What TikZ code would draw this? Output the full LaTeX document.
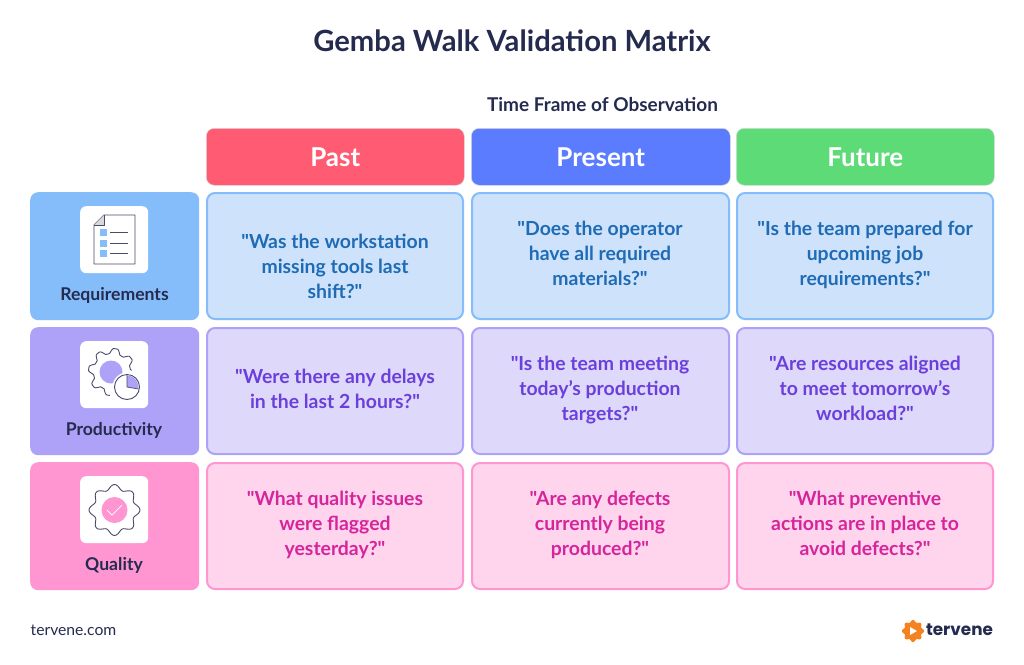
\documentclass[tikz,border=0pt]{standalone}
\usepackage{fontspec}
\newfontfamily\lat{Lato}
\newfontfamily\pop{Poppins}
\definecolor{navy}{HTML}{252B4F}
\definecolor{redh}{HTML}{FF5C74}
\definecolor{blueh}{HTML}{5C7CFF}
\definecolor{greenh}{HTML}{5CDB77}
\definecolor{blueL}{HTML}{85BDFB}
\definecolor{purL}{HTML}{AEA2F8}
\definecolor{pinkL}{HTML}{FF96D2}
\definecolor{blueC}{HTML}{CEE3FB}
\definecolor{purC}{HTML}{DED8FB}
\definecolor{pinkC}{HTML}{FFD5EE}
\definecolor{blueT}{HTML}{1F6BB5}
\definecolor{purT}{HTML}{6B3FDB}
\definecolor{pinkT}{HTML}{D6249A}
\definecolor{orangeL}{HTML}{F58220}
\definecolor{inkline}{HTML}{4A4A6A}
\tikzset{
 every node/.append style={font=\lat},
 box/.style={rounded corners=8pt,minimum height=#1,inner sep=0pt,anchor=north west},
 headbox/.style={box=57pt,minimum width=258pt,draw=black!15,line width=.5pt,text=white,font=\lat\fontsize{26}{30}\selectfont\bfseries},
 rowbox/.style={box=128pt,minimum width=169pt},
 cell/.style={box=126pt,minimum width=256pt,line width=2pt},
 bluecell/.style={cell,draw=blueL,fill=blueC},
 purcell/.style={cell,draw=purL,fill=purC},
 pinkcell/.style={cell,draw=pinkL,fill=pinkC},
 celltext/.style={anchor=north,inner sep=0pt,align=center,font=\lat\fontsize{19.4}{25.2}\selectfont\bfseries},
 iconbox/.style={fill=white,rounded corners=6pt,minimum width=68pt,minimum height=67pt,inner sep=0pt,anchor=north west},
 rowlabel/.style={text=navy,anchor=base,font=\lat\fontsize{17.6}{20}\selectfont\bfseries,inner sep=0pt},
 ink/.style={draw=inkline,line width=.9pt,line join=round},
}
\begin{document}
\begin{tikzpicture}[x=1pt,y=-1pt]
\useasboundingbox (0,0) rectangle (1024,664);
\fill[white] (0,0) rectangle (1024,664);
\node[text=navy,inner sep=0pt,font=\lat\fontsize{29.2}{34}\selectfont\bfseries] (title) at (512,41) {Gemba Walk Validation Matrix};
\node[text=navy,inner sep=0pt,font=\lat\fontsize{19}{22}\selectfont\bfseries] (tf) at (602.5,104.5) {Time Frame of Observation};
% headers
\node[headbox,fill=redh] (past) at (206,128) {Past};
\node[headbox,fill=blueh,minimum width=259pt] (present) at (471,128) {Present};
\node[headbox,fill=greenh] (future) at (736,128) {Future};
% row labels
\node[rowbox,fill=blueL] (r1) at (30,192) {};
\node[rowbox,fill=purL] (r2) at (30,327) {};
\node[rowbox,fill=pinkL] (r3) at (30,462) {};
\node[iconbox] (i1) at (80,206) {};
\node[iconbox] (i2) at (80,341) {};
\node[iconbox] (i3) at (80,476) {};
\node[rowlabel] (l1) at (114.5,300) {Requirements};
\node[rowlabel] (l2) at (114,435) {Productivity};
\node[rowlabel] (l3) at (114,570) {Quality};
% cells
\node[bluecell] (c11) at (206,192) {};
\node[bluecell,minimum width=257pt] (c12) at (471,192) {};
\node[bluecell] (c13) at (736,192) {};
\node[purcell] (c21) at (206,327) {};
\node[purcell,minimum width=257pt] (c22) at (471,327) {};
\node[purcell] (c23) at (736,327) {};
\node[pinkcell] (c31) at (206,462) {};
\node[pinkcell,minimum width=257pt] (c32) at (471,462) {};
\node[pinkcell] (c33) at (736,462) {};
% cell texts
\node[celltext,text=blueT] (t11) at (335,233.5) {"Was the workstation\\missing tools last\\shift?"};
\node[celltext,text=blueT] (t12) at (600,220.5) {"Does the operator\\have all required\\materials?"};
\node[celltext,text=blueT] (t13) at (865,220.5) {"Is the team prepared for\\upcoming job\\requirements?"};
\node[celltext,text=purT] (t21) at (335,369) {"Were there any delays\\in the last 2 hours?"};
\node[celltext,text=purT] (t22) at (600,355.5) {"Is the team meeting\\today’s production\\targets?"};
\node[celltext,text=purT] (t23) at (865,355.5) {"Are resources aligned\\to meet tomorrow’s\\workload?"};
\node[celltext,text=pinkT] (t31) at (335,490.5) {"What quality issues\\were flagged\\yesterday?"};
\node[celltext,text=pinkT] (t32) at (600,490.5) {"Are any defects\\currently being\\produced?"};
\node[celltext,text=pinkT] (t33) at (865,490.5) {"What preventive\\actions are in place to\\avoid defects?"};
% requirements icon
\draw[ink] (104,215) -- (135,215) -- (135,264) -- (94,264) -- (94,225) -- cycle;
\fill[black!15] (104,215) -- (104,225) -- (94,225) -- cycle;
\draw[ink] (104,215) -- (104,225) -- (94,225);
\foreach \yy in {229,239.5,250}{
 \fill[blueL] (100,\yy) rectangle ++(7,7);
 \draw[inkline,line width=.9pt] (110,\yy+3.5) -- ++(18,0);
}
% productivity icon
\draw[ink] plot[smooth,samples=90,domain=95:355,variable=\a,tension=.5]
 ({112+(21+2.5*max(-1,min(1,1.5*sin(8*\a+20))))*cos(\a)},{372+(21+2.5*max(-1,min(1,1.5*sin(8*\a+20))))*sin(\a)});
\fill[purL] (111,372) circle (11.5);
\fill[white] (127,387) circle (14.5);
\draw[ink,fill=white] (127,387) circle (12.5);
\fill[purL] (127,387) -- (127,375.5) arc (-90:10:11.5) -- cycle;
\draw[inkline,line width=.7pt] (127,375) -- (127,387) -- (138.5,389);
% quality icon
\draw[ink] plot[smooth cycle,samples=96,domain=0:356.25,variable=\a]
 ({114.5+(23+2.5*cos(8*\a))*cos(\a)},{510+(23+2.5*cos(8*\a))*sin(\a)});
\fill[pinkL] (114.5,510) circle (13);
\draw[white,line width=.7pt,line cap=round] (107,510) -- (112,515) -- (122,505);
% footer
\node[text=navy,inner sep=0pt,font=\lat\fontsize{15.7}{18}\selectfont] (site) at (73.5,630.5) {tervene.com};
\fill[orangeL] plot[smooth cycle,samples=48,domain=0:352.5,variable=\a]
 ({913+(10+1.2*cos(8*\a))*cos(\a)},{631+(10+1.2*cos(8*\a))*sin(\a)});
\fill[white] (910,627) -- (917,631) -- (910,635) -- cycle;
\node[text=navy,inner sep=0pt,font=\pop\fontsize{16.8}{24}\selectfont\bfseries] (logo) at (959.5,630) {tervene};
\end{tikzpicture}
\end{document}
